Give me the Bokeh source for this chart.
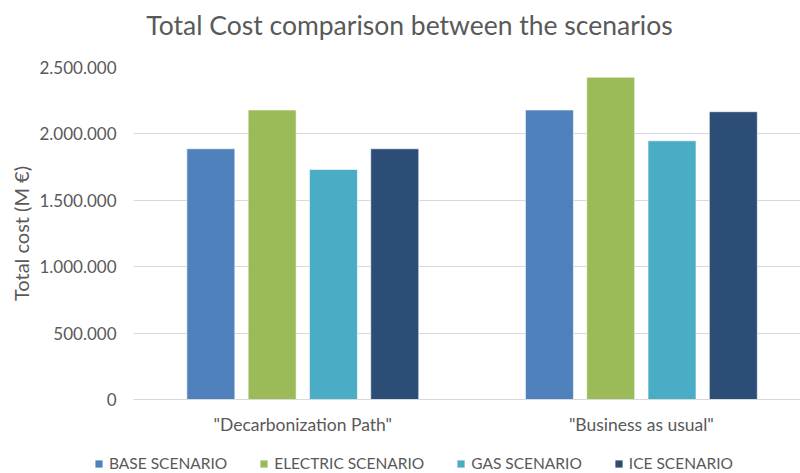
from bokeh.plotting import figure
from bokeh.layouts import column, row
from bokeh.models import ColumnDataSource, Range1d, FixedTicker, Legend, LegendItem
from bokeh.core.properties import value
from bokeh.transform import dodge
from bokeh.embed import file_html
from bokeh.resources import INLINE

# ---- data ----
title_text = "Total Cost comparison between the scenarios"
groups = ['"Decarbonization Path"', '"Business as usual"']
series = ["BASE SCENARIO", "ELECTRIC SCENARIO", "GAS SCENARIO", "ICE SCENARIO"]
base_values = [1888000, 2180000]
electric_values = [2180000, 2427000]
gas_values = [1732000, 1948000]
ice_values = [1888000, 2167000]
y_tick_values = [0, 500000, 1000000, 1500000, 2000000, 2500000]
y_tick_labels = ["0", "500.000", "1.000.000", "1.500.000", "2.000.000", "2.500.000"]

colors = ["#4F81BD", "#9BBB59", "#4BACC6", "#2C4D75"]
FONT = "Lato"
TXT = "#595959"


def bare(fig):
    fig.outline_line_color = None
    fig.xgrid.visible = False
    fig.ygrid.visible = False
    fig.border_fill_color = "white"
    fig.background_fill_color = "white"


# ---- title strip (its frame gets aligned with the main frame: pixels 133..800) ----
pt = figure(width=800, height=50, output_backend="svg", toolbar_location=None,
            x_range=Range1d(133, 800), y_range=Range1d(0, 50), x_axis_type=None, y_axis_type=None,
            min_border_left=0, min_border_right=0, min_border_top=0, min_border_bottom=0)
bare(pt)
pt.text(x=[409], y=[26], text=[title_text], text_align="center", text_baseline="middle",
        text_font=value(FONT), text_font_size="26.5px", text_color=TXT)

# ---- main chart ----
src = ColumnDataSource(dict(
    x=list(range(len(groups))),
    base=base_values, electric=electric_values, gas=gas_values, ice=ice_values,
))

p = figure(width=800, height=403, output_backend="svg", toolbar_location=None,
           x_range=Range1d(-0.5, 1.47), y_range=Range1d(0, 2500000),
           min_border_left=133, min_border_right=0, min_border_top=17, min_border_bottom=54)
p.outline_line_color = None
p.background_fill_color = "white"
p.border_fill_color = "white"

bar_w = 48 / 338.6
step = 61.3 / 338.6
fields = ["base", "electric", "gas", "ice"]
for i, (f, c) in enumerate(zip(fields, colors)):
    p.vbar(x=dodge("x", (i - 1.5) * step, range=p.x_range), top=f, width=bar_w,
           source=src, fill_color=c, line_color="#FFFFFF", line_alpha=0.6, line_width=1)

p.xaxis.ticker = FixedTicker(ticks=list(range(len(groups))))
p.xaxis.major_label_overrides = {i: g for i, g in enumerate(groups)}
p.xaxis.major_tick_line_color = None
p.xaxis.minor_tick_line_color = None
p.xaxis.axis_line_color = "#D9D9D9"
p.xaxis.major_label_text_font = FONT
p.xaxis.major_label_text_font_size = "17.5px"
p.xaxis.major_label_text_color = TXT
p.xaxis.major_label_standoff = 8

p.yaxis.ticker = FixedTicker(ticks=y_tick_values)
p.yaxis.major_label_overrides = {v: l for v, l in zip(y_tick_values, y_tick_labels)}
p.yaxis.major_tick_line_color = None
p.yaxis.minor_tick_line_color = None
p.yaxis.axis_line_color = None
p.yaxis.major_label_text_font = FONT
p.yaxis.major_label_text_font_size = "17px"
p.yaxis.major_label_text_color = TXT
p.yaxis.major_label_standoff = 11
p.yaxis.axis_label = "Total cost (M €)"
p.yaxis.axis_label_text_font = FONT
p.yaxis.axis_label_text_font_size = "20px"
p.yaxis.axis_label_text_font_style = "normal"
p.yaxis.axis_label_text_color = TXT
p.yaxis.axis_label_standoff = 3

p.xgrid.grid_line_color = None
p.ygrid.grid_line_color = "#D9D9D9"
p.ygrid.grid_line_width = 1

# ---- legend strip ----
pl = figure(width=800, height=20, output_backend="svg", toolbar_location=None,
            x_range=Range1d(0, 1), y_range=Range1d(0, 1), x_axis_type=None, y_axis_type=None,
            min_border_left=0, min_border_right=0, min_border_top=0, min_border_bottom=0)
bare(pl)
leg_src = ColumnDataSource(dict(x=[-10], top=[-10]))
leg_renderers = [pl.vbar(x="x", top="top", width=0.1, source=leg_src, fill_color=c, line_color=None)
                 for c in colors]
legend = Legend(items=[LegendItem(label=s, renderers=[r]) for s, r in zip(series, leg_renderers)],
                orientation="horizontal", location=(94, 1))
legend.margin = 0
legend.padding = 0
legend.spacing = 32
legend.glyph_width = 9
legend.glyph_height = 9
legend.label_standoff = 6
legend.label_text_font = FONT
legend.label_text_font_size = "15.5px"
legend.label_text_color = TXT
legend.border_line_color = None
legend.background_fill_alpha = 0
pl.add_layout(legend)

layout = column(pt, p, row(pl), spacing=0)
open("out.html", "w").write(file_html(layout, INLINE))
